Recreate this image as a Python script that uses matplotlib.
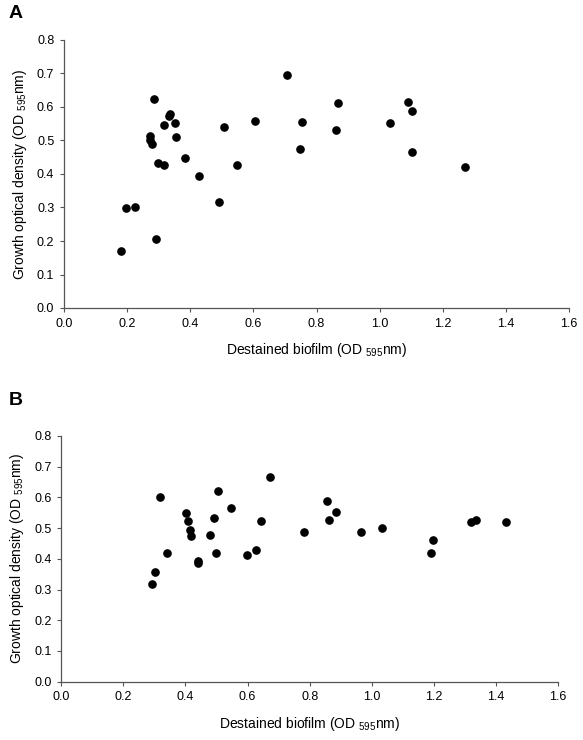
import numpy as np
import matplotlib.pyplot as plt

plt.rcParams['font.family'] = ['Liberation Sans', 'DejaVu Sans']
plt.rcParams['mathtext.default'] = 'regular'

# Panel A: destained biofilm vs growth OD
a_biofilm = [0.180, 0.197, 0.226, 0.292, 0.286, 0.273, 0.273, 0.280, 0.297, 0.317,
             0.316, 0.335, 0.334, 0.351, 0.356, 0.383, 0.427, 0.492, 0.507, 0.548,
             0.604, 0.705, 0.754, 0.747, 0.867, 0.862, 1.034, 1.090, 1.101, 1.103,
             1.270]
a_growth = [0.170, 0.298, 0.302, 0.207, 0.625, 0.513, 0.500, 0.490, 0.433, 0.427,
            0.546, 0.579, 0.573, 0.551, 0.511, 0.448, 0.393, 0.315, 0.539, 0.428,
            0.557, 0.697, 0.554, 0.476, 0.613, 0.531, 0.552, 0.616, 0.587, 0.465,
            0.421]

# Panel B
b_biofilm = [0.293, 0.302, 0.317, 0.340, 0.401, 0.407, 0.416, 0.419, 0.439, 0.439,
             0.480, 0.493, 0.497, 0.505, 0.548, 0.598, 0.628, 0.644, 0.673,
             0.782, 0.855, 0.862, 0.885, 0.967, 1.033, 1.191, 1.197, 1.321, 1.337,
             1.433]
b_growth = [0.319, 0.356, 0.601, 0.418, 0.550, 0.523, 0.493, 0.476, 0.392, 0.385,
            0.478, 0.534, 0.418, 0.622, 0.566, 0.413, 0.428, 0.523, 0.667,
            0.486, 0.589, 0.525, 0.554, 0.487, 0.502, 0.418, 0.461, 0.520, 0.525,
            0.519]

x_ticks = np.arange(0, 1.61, 0.2)
y_ticks = np.arange(0, 0.81, 0.1)

W, H = 583, 740
fig = plt.figure(figsize=(W / 100, H / 100), dpi=100)

def panel(rect, xs, ys, letter, letter_y):
    l, t, r, b = rect
    ax = fig.add_axes([l / W, 1 - b / H, (r - l) / W, (b - t) / H])
    ax.plot(xs, ys, 'o', color='black', markersize=5.2, linestyle='none')
    ax.set_xlim(0, 1.6)
    ax.set_ylim(0, 0.8)
    ax.set_xticks(x_ticks)
    ax.set_yticks(y_ticks)
    ax.set_xticklabels([f'{v:.1f}' for v in x_ticks])
    ax.set_yticklabels([f'{v:.1f}' for v in y_ticks])
    for s in ['top', 'right']:
        ax.spines[s].set_visible(False)
    for s in ['left', 'bottom']:
        ax.spines[s].set_color('#555555')
        ax.spines[s].set_linewidth(0.9)
    ax.tick_params(direction='out', length=3, width=0.8, color='#555555',
                   labelsize=9, pad=4)
    ax.set_xlabel(r'Destained biofilm (OD $_{595}$nm)', fontsize=10, labelpad=8)
    ax.set_ylabel(r'Growth optical density (OD $_{595}$nm)', fontsize=10, labelpad=6)
    fig.text(9 / W, 1 - letter_y / H, letter, fontsize=14, fontweight='bold',
             va='top', ha='left')
    return ax

panel((64, 40, 569, 308), a_biofilm, a_growth, 'A', 5)
panel((61.3, 436, 558, 681.7), b_biofilm, b_growth, 'B', 392)

fig.savefig('out.png', dpi=100)
